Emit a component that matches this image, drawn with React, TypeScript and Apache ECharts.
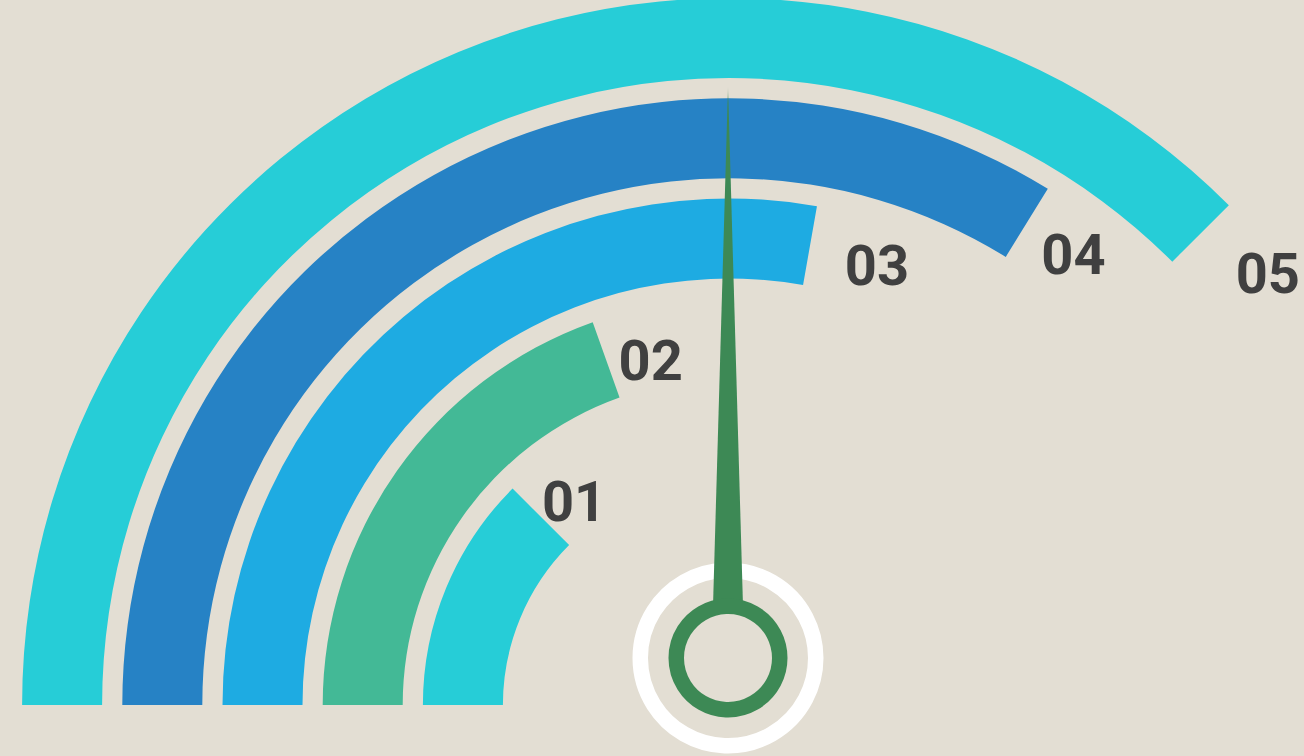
import React, { useEffect, useRef } from "react";
import * as echarts from "echarts";

// ---- data ----
const categories = ["01", "02", "03", "04", "05"];
const sweepValues = [45, 70.4, 100, 121.7, 135]; // degrees swept clockwise from the left
const barColors = ["#26cdd7", "#43b996", "#1eabe2", "#2682c5", "#26cdd7"];
const needleValue = [50]; // gauge 0..100 over a half circle -> straight up

// ---- layout / style ----
const BG = "#e3ded3";
const GREEN = "#3d8955";
const POLAR_CENTER = [729, 705];
const POLAR_RADIUS = [216, 717];
const HUB = [728, 658];
const labelOffsets: number[][] = [
  [-6, -8],
  [3, 4],
  [25, 19],
  [6, 27],
  [28, 33],
];

export default function App() {
  const ref = useRef<HTMLDivElement>(null);
  useEffect(() => {
    document.body.style.margin = "0";
    const chart = echarts.init(ref.current!, null, { renderer: "svg" });
    chart.setOption({
      animation: false,
      backgroundColor: BG,
      polar: { center: POLAR_CENTER, radius: POLAR_RADIUS },
      angleAxis: {
        type: "value",
        min: 0,
        max: 360,
        startAngle: 180,
        clockwise: true,
        show: false,
      },
      radiusAxis: { type: "category", data: categories, show: false },
      series: [
        {
          type: "bar",
          coordinateSystem: "polar",
          barWidth: 80,
          z: 2,
          data: sweepValues.map((v, i) => ({
            value: v,
            itemStyle: { color: barColors[i] },
            label: { offset: labelOffsets[i] },
          })),
          label: {
            show: true,
            position: "end",
            rotate: 0,
            align: "left",
            verticalAlign: "middle",
            distance: 10,
            formatter: "{b}",
            fontFamily: "Roboto",
            fontWeight: "bold",
            fontSize: 56,
            color: "#404040",
          },
        },
        {
          type: "gauge",
          center: HUB,
          radius: 572,
          startAngle: 180,
          endAngle: 0,
          min: 0,
          max: 100,
          z: 5,
          axisLine: { show: false },
          axisTick: { show: false },
          splitLine: { show: false },
          axisLabel: { show: false },
          detail: { show: false },
          title: { show: false },
          anchor: { show: false },
          progress: { show: false },
          pointer: {
            icon: "triangle",
            length: "100%",
            width: 33,
            itemStyle: {
              color: {
                type: "linear",
                x: 0,
                y: 0,
                x2: 0,
                y2: 1,
                colorStops: [
                  { offset: 0, color: "rgba(61,137,85,0.15)" },
                  { offset: 0.03, color: GREEN },
                  { offset: 1, color: GREEN },
                ],
              },
            },
          },
          data: needleValue.map((v) => ({ value: v })),
        },
      ],
      graphic: [
        {
          type: "circle",
          z: 1,
          shape: { cx: HUB[0], cy: HUB[1], r: 87.75 },
          style: { fill: "none", stroke: "#ffffff", lineWidth: 15.5 },
        },
        {
          type: "circle",
          z: 100,
          shape: { cx: HUB[0], cy: HUB[1], r: 51.75 },
          style: { fill: BG, stroke: GREEN, lineWidth: 15.5 },
        },
      ],
    });
    return () => chart.dispose();
  }, []);
  return (
    <div
      ref={ref}
      style={{ position: "fixed", left: 0, top: 0, width: 1304, height: 756 }}
    />
  );
}
